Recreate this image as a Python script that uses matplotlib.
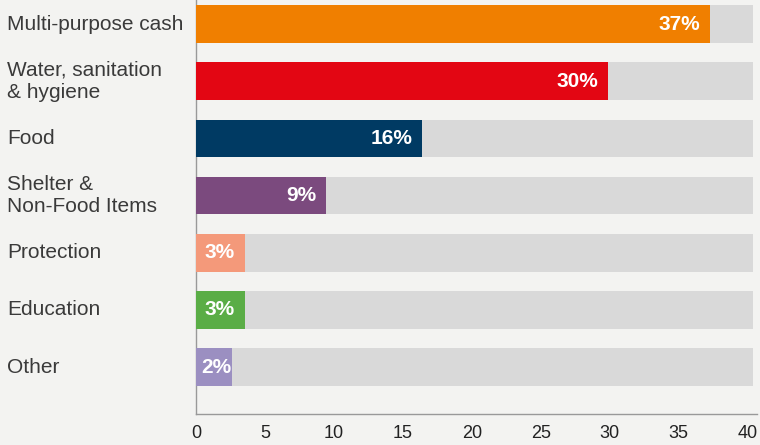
import matplotlib
matplotlib.use("Agg")
import matplotlib.pyplot as plt
import matplotlib.transforms as mtransforms

categories = ["Multi-purpose cash", "Water, sanitation\n& hygiene", "Food",
              "Shelter &\nNon-Food Items", "Protection", "Education", "Other"]
values = [37.27, 29.88, 16.39, 9.43, 3.55, 3.55, 2.61]
value_labels = ["37%", "30%", "16%", "9%", "3%", "3%", "2%"]
colors = ["#f07f00", "#e30613", "#003a63", "#7b4a7e", "#f4997a", "#5aad46", "#9b8fc1"]
xticks = [0, 5, 10, 15, 20, 25, 30, 35, 40]
track = 40.39

bg = "#f3f3f1"
plt.rcParams['font.family'] = ['Liberation Sans', 'DejaVu Sans']

fig = plt.figure(figsize=(7.6, 4.45), dpi=100, facecolor=bg)
ax = fig.add_axes([196/760, 1 - 414/445, (757-196)/760, 414/445])
ax.set_facecolor(bg)

ys = list(range(len(categories)))
ax.barh(ys, [track]*len(ys), height=0.66, color="#d9d9d9", zorder=2)
ax.barh(ys, values, height=0.66, color=colors, zorder=3)

for y, v, lab in zip(ys, values, value_labels):
    if v < 3:
        ax.annotate(lab, (0, y), xytext=(5, 0), textcoords="offset pixels",
                    ha="left", va="center", color="white", fontsize=15,
                    fontweight="bold", zorder=4)
    else:
        ax.annotate(lab, (v, y), xytext=(-10, 0), textcoords="offset pixels",
                    ha="right", va="center", color="white", fontsize=15,
                    fontweight="bold", zorder=4)

trans = mtransforms.blended_transform_factory(fig.transFigure, ax.transData)
for y, c in zip(ys, categories):
    ax.text(7/760, y, c, transform=trans, ha="left", va="center",
            fontsize=15, color="#3a3a3a", linespacing=1.25)

ax.set_xlim(0, 40.68)
ax.set_ylim(6.82, -0.42)
ax.set_xticks(xticks)
ax.set_xticklabels([str(t) for t in xticks], fontsize=13, color="#222222")
ax.tick_params(axis="x", length=0, pad=8)
ax.set_yticks([])
for s in ["top", "right"]:
    ax.spines[s].set_visible(False)
for s in ["left", "bottom"]:
    ax.spines[s].set_color("#999999")
    ax.spines[s].set_linewidth(1)
    ax.spines[s].set_zorder(1)

fig.savefig("out.png", dpi=100, facecolor=bg)
